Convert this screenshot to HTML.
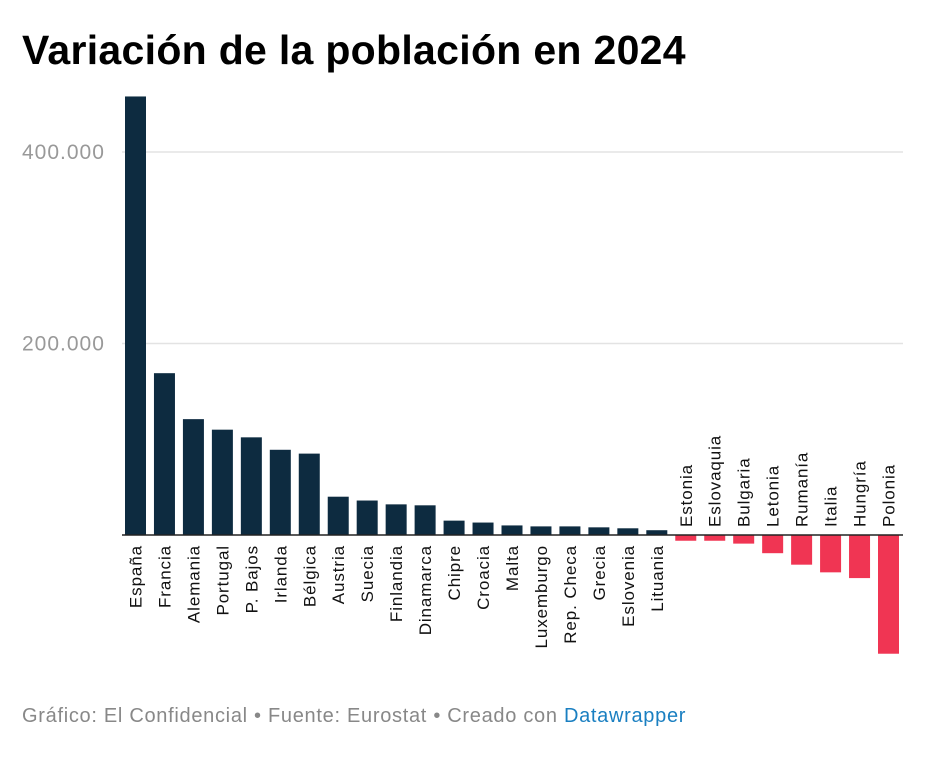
<!DOCTYPE html>
<html><head><meta charset="utf-8">
<style>
body{margin:0;background:#fff;width:927px;height:777px;overflow:hidden;font-family:"Liberation Sans",sans-serif;}
</style></head>
<body>
<svg width="927" height="777" xmlns="http://www.w3.org/2000/svg">
<text x="22" y="64" font-size="41" font-weight="bold" fill="#000" letter-spacing="0.3">Variación de la población en 2024</text>
<g id="grid"></g>
<g id="bars"></g>
<g id="labels"></g>
<line x1="122" x2="903" y1="535" y2="535" stroke="#222" stroke-width="1.5"/>
<text x="22" y="722" font-size="20" fill="#888" letter-spacing="0.7">Gráfico: El Confidencial • Fuente: Eurostat • Creado con <tspan fill="#1a7fc1">Datawrapper</tspan></text>
</svg>
<script>
const categories=["España","Francia","Alemania","Portugal","P. Bajos","Irlanda","Bélgica","Austria","Suecia","Finlandia","Dinamarca","Chipre","Croacia","Malta","Luxemburgo","Rep. Checa","Grecia","Eslovenia","Lituania","Estonia","Eslovaquia","Bulgaria","Letonia","Rumanía","Italia","Hungría","Polonia"];
const values=[458000,169000,121000,110000,102000,89000,85000,40000,36000,32000,31000,15000,13000,10000,9000,9000,8000,7000,5000,-6000,-6000,-9000,-19000,-31000,-39000,-45000,-124000];
const yTicks=[200000,400000];
const yTickLabels=["200.000","400.000"];
const NS="http://www.w3.org/2000/svg";
const y0=535, pxPer=191.5/200000;
function y(v){return y0-v*pxPer;}
const x0=125, step=(878-125)/(categories.length-1), bw=21;
function x(i){return x0+i*step;}
const grid=document.getElementById('grid');
yTicks.forEach((t,i)=>{
 const l=document.createElementNS(NS,'line');
 l.setAttribute('x1',122);l.setAttribute('x2',903);l.setAttribute('y1',y(t));l.setAttribute('y2',y(t));
 l.setAttribute('stroke','#e3e3e3');l.setAttribute('stroke-width','1.5');
 
 
 grid.appendChild(l);
 const tx=document.createElementNS(NS,'text');
 tx.setAttribute('x',22);tx.setAttribute('y',y(t)+7);tx.setAttribute('font-size','21');tx.setAttribute('fill','#999');
 tx.setAttribute('letter-spacing','1');
 tx.textContent=yTickLabels[i];
 
 
 grid.appendChild(tx);
});
const bars=document.getElementById('bars'), labels=document.getElementById('labels');
categories.forEach((c,i)=>{
 const v=values[i];
 const r=document.createElementNS(NS,'rect');
 r.setAttribute('x',x(i));r.setAttribute('width',bw);
 r.setAttribute('y',Math.min(y(v),y0));r.setAttribute('height',Math.abs(y(v)-y0));
 r.setAttribute('fill',v>=0?'#0d2b40':'#f03553');
 
 
 bars.appendChild(r);
 const t=document.createElementNS(NS,'text');
 const cx=x(i)+bw/2+6;
 const ty=v>=0?545:527;
 t.setAttribute('transform',`translate(${cx},${ty}) rotate(-90)`);
 t.setAttribute('text-anchor',v>=0?'end':'start');
 t.setAttribute('font-size','17');t.setAttribute('fill','#111');
 t.setAttribute('letter-spacing','0.9');
 t.textContent=c;
 
 
 labels.appendChild(t);
});
</script>
</body></html>
